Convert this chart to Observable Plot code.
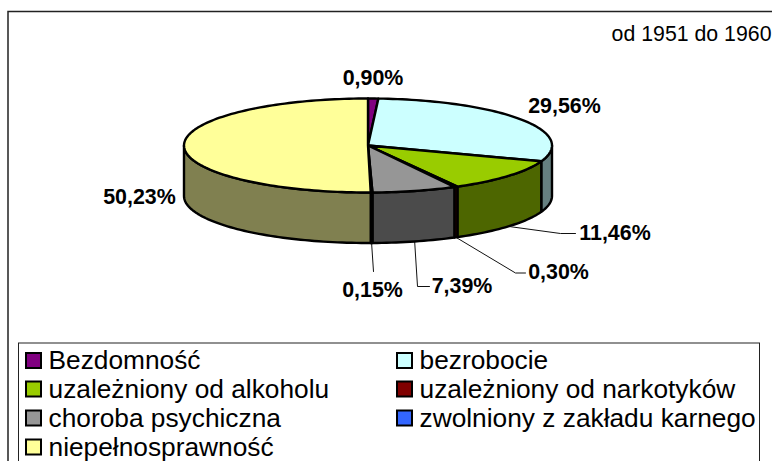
<!DOCTYPE html>
<html>
<head>
<meta charset="utf-8">
<script src="https://cdn.jsdelivr.net/npm/d3@7"></script>
<script src="https://cdn.jsdelivr.net/npm/@observablehq/plot@0.6"></script>
<style>
html,body{margin:0;padding:0;background:#fff;overflow:hidden}
svg{display:block}
</style>
</head>
<body>
<div id="chart"></div>
<script>
// Data
const categories = ["Bezdomność","bezrobocie","uzależniony od alkoholu","uzależniony od narkotyków","choroba psychiczna","zwolniony z zakładu karnego","niepełnosprawność"];
const shares = [0.90,29.56,11.46,0.30,7.39,0.15,50.23];
const topColors = ["#800080","#CCFFFF","#99CC00","#800000","#969696","#3366FF","#FFFF99"];
const sideColors = ["#400040","#668080","#4D6600","#400000","#4B4B4B","#1A3380","#808050"];
const periodLabel = "od 1951 do 1960";

// Layout
const W = 772, H = 461;
const cx = 367.5, cy = 145, rx = 184, ry = 47, depth = 50.5;
const FONT = "Liberation Sans, Arial, sans-serif";
const labelPlace = [[372.5,78],[564,106],[614.5,233],[558,272],[461.5,286],[372,290],[139,197]];
const leaderBend = [null,null,[[560,233],[575,233]],[[515,272.5],[525,272.5]],[[417,286],[429,286]],[[373,271]],null];
const legendPlace = [[33.5,360.5],[404.5,360.5],[33.5,389],[404.5,389],[33.5,418],[404.5,418],[33.5,447]];

const total = d3.sum(shares);
const toRad = d => d * Math.PI / 180;
const pt = (deg, dz = 0) => ({x: cx + rx * Math.sin(toRad(deg)), y: cy - ry * Math.cos(toRad(deg)) + dz});

let acc = 0;
const slices = categories.map((name, i) => {
  const a0 = acc / total * 360;
  acc += shares[i];
  return {name, i, a0, a1: acc / total * 360};
});
const arc = (a0, a1, dz = 0) => {
  const n = Math.max(2, Math.ceil((a1 - a0) / 1.5));
  return d3.range(n + 1).map(k => pt(a0 + (a1 - a0) * k / n, dz));
};
const topPts = slices.flatMap(s => {
  const ring = [{x: cx, y: cy}, ...arc(s.a0, s.a1), {x: cx, y: cy}];
  return ring.map(p => ({...p, key: s.name}));
});
const sidePts = slices.flatMap(s => {
  const a0 = Math.max(s.a0, 90), a1 = Math.min(s.a1, 270);
  if (a1 <= a0) return [];
  const ring = [...arc(a0, a1), ...arc(a0, a1, depth).reverse()];
  ring.push(ring[0]);
  return ring.map(p => ({...p, key: s.name + "|bok"}));
});
const leaders = slices.flatMap(s => {
  const bend = leaderBend[s.i];
  if (!bend) return [];
  const start = pt((s.a0 + s.a1) / 2, depth);
  return [start, ...bend.map(([x, y]) => ({x, y}))].map(p => ({...p, key: s.name}));
});
const labels = slices.map(s => ({
  text: shares[s.i].toFixed(2).replace(".", ",") + "%",
  x: labelPlace[s.i][0], y: labelPlace[s.i][1]
}));
const legend = slices.map(s => ({name: s.name, x: legendPlace[s.i][0], y: legendPlace[s.i][1]}));

const plot = Plot.plot({
  width: W, height: H,
  margin: 0,
  style: {background: "#fff", fontFamily: FONT},
  x: {domain: [0, W], range: [0, W], axis: null},
  y: {domain: [0, H], range: [0, H], axis: null},
  color: {
    type: "ordinal",
    domain: [...categories, ...categories.map(c => c + "|bok")],
    range: [...topColors, ...sideColors]
  },
  marks: [
    // outer frame and legend box
    Plot.rect([{x1: 8, x2: 790, y1: 11.5, y2: 480}], {x1: "x1", x2: "x2", y1: "y1", y2: "y2", fill: "#fff", stroke: "#222", strokeWidth: 1.5}),
    Plot.rect([{x1: 18.5, x2: 759.5, y1: 343, y2: 480}], {x1: "x1", x2: "x2", y1: "y1", y2: "y2", fill: "#fff", stroke: "#222", strokeWidth: 1}),
    // leaders
    Plot.line(leaders, {x: "x", y: "y", z: "key", stroke: "#111", strokeWidth: 1}),
    // pie sides, then top
    Plot.line(sidePts, {x: "x", y: "y", z: "key", fill: "key", stroke: "#000", strokeWidth: 2.4, strokeLinejoin: "round"}),
    Plot.line(topPts, {x: "x", y: "y", z: "key", fill: "key", stroke: "#000", strokeWidth: 2.4, strokeLinejoin: "round"}),
    // value labels
    Plot.text(labels, {x: "x", y: "y", text: "text", fontSize: 21.4, fontWeight: "bold", fontFamily: FONT, fill: "#000", textAnchor: "middle", lineAnchor: "middle"}),
    // period note
    Plot.text([periodLabel], {x: () => 771, y: () => 34, text: d => d, fontSize: 21.3, fontFamily: FONT, fill: "#000", textAnchor: "end", lineAnchor: "middle"}),
    // legend
    Plot.rect(legend, {x1: d => d.x - 7.5, x2: d => d.x + 7.5, y1: d => d.y - 7.5, y2: d => d.y + 7.5, fill: "name", stroke: "#000", strokeWidth: 2}),
    Plot.text(legend, {x: d => d.x + 14.5, y: "y", text: "name", fontSize: 26.3, fontFamily: FONT, fill: "#000", textAnchor: "start", lineAnchor: "middle"})
  ]
});
document.getElementById("chart").append(plot);
</script>
</body>
</html>
